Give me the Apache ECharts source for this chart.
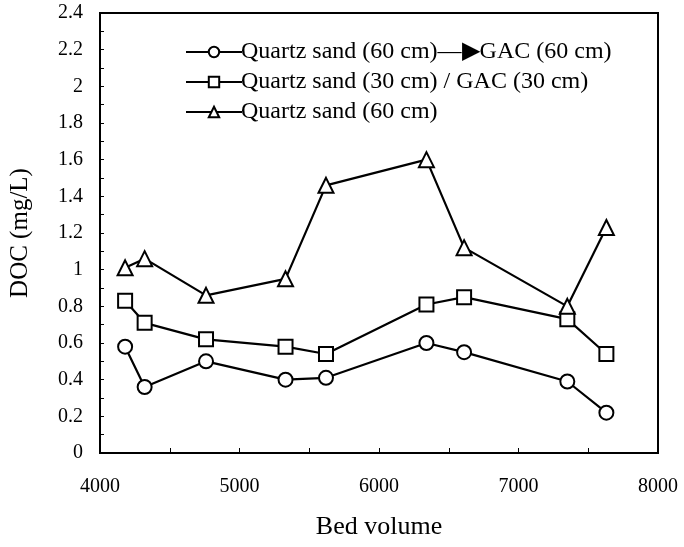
<!DOCTYPE html>
<html><head><meta charset="utf-8">
<script src="https://cdn.jsdelivr.net/npm/echarts@6/dist/echarts.min.js"></script>
<style>html,body{margin:0;padding:0;background:#fff}#c{width:684px;height:547px}</style>
</head><body><div id="c"></div>
<script>
const bedVolume = [4180, 4320, 4760, 5330, 5620, 6340, 6610, 7350, 7630];
const seriesNames = ['Quartz sand (60 cm)\u2192GAC (60 cm)', 'Quartz sand (30 cm) / GAC (30 cm)', 'Quartz sand (60 cm)'];
const sandThenGAC = [0.58, 0.36, 0.50, 0.40, 0.41, 0.60, 0.55, 0.39, 0.22];
const sandOverGAC = [0.83, 0.71, 0.62, 0.58, 0.54, 0.81, 0.85, 0.73, 0.54];
const sandOnly = [1.01, 1.06, 0.86, 0.95, 1.46, 1.60, 1.12, 0.80, 1.23];
const symbols = ['emptyCircle', 'emptyRect', 'emptyTriangle'];

const font = 'Liberation Serif';
function pairs(vals){ return bedVolume.map((x,i)=>[x, vals[i]]); }
const allVals = [sandThenGAC, sandOverGAC, sandOnly];

const chart = echarts.init(document.getElementById('c'));
chart.setOption({
  animation: false,
  backgroundColor: '#fff',
  grid: {left: 100, right: 26, top: 13, bottom: 94, show: true, borderColor: '#000', borderWidth: 2},
  legend: {
    orient: 'vertical', left: 180, top: 35, itemGap: 6,
    itemWidth: 56, itemHeight: 13,
    textStyle: {fontFamily: font, fontSize: 24, lineHeight: 24, color: '#000', padding: [0,0,0,-6]},
    formatter: function(n){ return n.replace('\u2192', '\u2014\u25B6'); },
    data: seriesNames
  },
  xAxis: {
    type: 'value', min: 4000, max: 8000, interval: 500,
    name: 'Bed volume', nameLocation: 'middle', nameGap: 61,
    nameTextStyle: {fontFamily: font, fontSize: 26, color: '#000'},
    axisLine: {lineStyle: {color: '#000', width: 2}},
    axisTick: {inside: true, length: 5, lineStyle: {color: '#000', width: 1}},
    splitLine: {show: false},
    axisLabel: {fontFamily: font, fontSize: 20, color: '#000', margin: 24,
      formatter: v => (Math.round(v) % 1000 === 0 ? String(v) : '')}
  },
  yAxis: {
    type: 'value', min: 0, max: 2.4, interval: 0.1,
    name: 'DOC (mg/L)', nameLocation: 'middle', nameGap: 67,
    nameTextStyle: {fontFamily: font, fontSize: 25, color: '#000'},
    axisLine: {lineStyle: {color: '#000', width: 2}},
    axisTick: {inside: true, length: 4, lineStyle: {color: '#000', width: 1}},
    splitLine: {show: false},
    axisLabel: {fontFamily: font, fontSize: 20, color: '#000', margin: 17,
      formatter: v => (Math.round(v*10) % 2 === 0 ? String(Math.round(v*10)/10) : '')}
  },
  series: allVals.map((vals, i) => ({
    name: seriesNames[i], type: 'line', data: pairs(vals),
    symbol: symbols[i], symbolSize: i === 2 ? 15 : 14,
    lineStyle: {color: '#000', width: 2.2},
    itemStyle: {color: '#000', borderColor: '#000', borderWidth: 2.2}
  }))
});
</script></body></html>
